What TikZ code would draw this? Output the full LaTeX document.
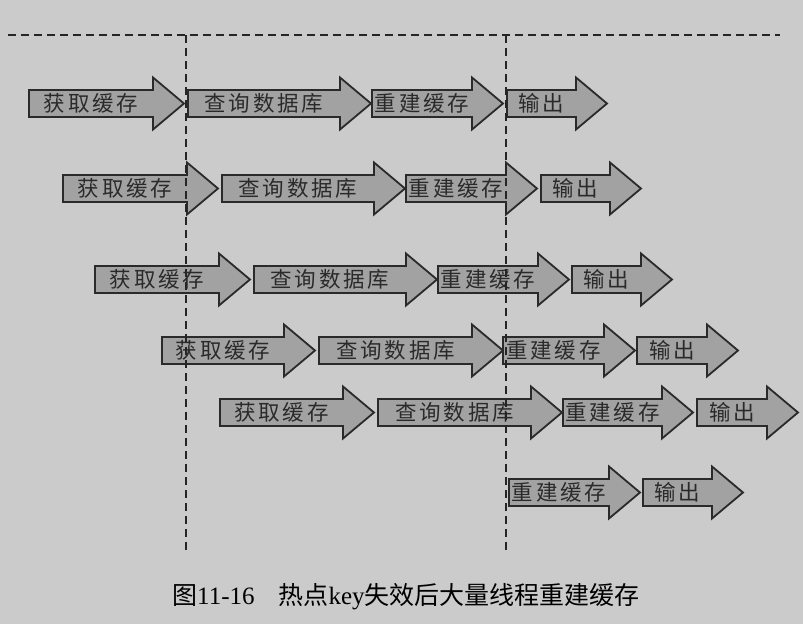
\documentclass[tikz,border=0pt]{standalone}
\usepackage{fontspec}
\setmainfont{Liberation Serif}
\newfontfamily\cjk{Noto Sans CJK SC}
\newfontfamily\cjkarrow[LetterSpace=13]{Noto Sans CJK SC}
\definecolor{bgc}{HTML}{CBCBCB}
\definecolor{arrowfill}{HTML}{A2A2A2}
\definecolor{strokec}{HTML}{2A2A2A}
\definecolor{textc}{HTML}{2A2A2A}
\definecolor{guidec}{HTML}{252525}
\tikzset{
  arrowshape/.style={fill=arrowfill, draw=strokec, line width=1.8pt, line join=miter},
  arrowlabel/.style={font=\cjkarrow\fontsize{21.5}{21.5}\selectfont, text=textc, inner sep=0pt},
  guide/.style={draw=guidec, line width=1.7pt, dash pattern=on 8pt off 5pt},
  captionlabel/.style={font=\fontsize{25}{25}\selectfont, text=black, inner sep=0pt, anchor=west}
}
% name, x-left, x-tip, y-centre, text
\newcommand\harrow[5]{%
  \draw[arrowshape] (#2,#4-13.5) -- (#3-31,#4-13.5) -- (#3-31,#4-26) -- (#3,#4)
     -- (#3-31,#4+26) -- (#3-31,#4+13.5) -- (#2,#4+13.5) -- cycle;
  \node[arrowlabel] (#1) at ({(#2+#3-31)/2},#4) {#5};
}
\begin{document}
\begin{tikzpicture}[x=1pt,y=-1pt]
\fill[bgc] (0,0) rectangle (803,624);
\useasboundingbox (0,0) rectangle (803,624);

% row 1
\harrow{g1}{29}{184}{103.5}{获取缓存}
\harrow{q1}{188}{371}{103.5}{查询数据库}
\harrow{r1}{372}{503}{103.5}{重建缓存}
\harrow{o1}{507}{607}{103.5}{输出}
% row 2
\harrow{g2}{63}{218}{188.5}{获取缓存}
\harrow{q2}{222}{405}{188.5}{查询数据库}
\harrow{r2}{406}{537}{188.5}{重建缓存}
\harrow{o2}{541}{641}{188.5}{输出}
% row 3
\harrow{g3}{95}{250}{279.5}{获取缓存}
\harrow{q3}{254}{437}{279.5}{查询数据库}
\harrow{r3}{438}{569}{279.5}{重建缓存}
\harrow{o3}{572}{672}{279.5}{输出}
% row 4
\harrow{g4}{162}{315}{350.5}{获取缓存}
\harrow{q4}{319}{503}{350.5}{查询数据库}
\harrow{r4}{503}{635}{350.5}{重建缓存}
\harrow{o4}{637}{738}{350.5}{输出}
% row 5
\harrow{g5}{220}{374}{412.5}{获取缓存}
\harrow{q5}{378}{562}{412.5}{查询数据库}
\harrow{r5}{563}{693}{412.5}{重建缓存}
\harrow{o5}{697}{798}{412.5}{输出}
% row 6
\harrow{r6}{509}{640}{492.5}{重建缓存}
\harrow{o6}{643}{743}{492.5}{输出}

% dashed guide lines
\coordinate (tl) at (8,35);
\coordinate (tr) at (780,35);
\coordinate (v1t) at (186,35);
\coordinate (v1b) at (186,550);
\coordinate (v2t) at (506,35);
\coordinate (v2b) at (506,550);
\draw[guide] (tl) -- (tr);
\draw[guide] (v1t) -- (v1b);
\draw[guide] (v2t) -- (v2b);

% caption
\node[captionlabel] (cap) at (172,597)
  {{\cjk 图}11-16\hspace{24pt}{\cjk 热点}key{\cjk 失效后大量线程重建缓存}};
\end{tikzpicture}
\end{document}
